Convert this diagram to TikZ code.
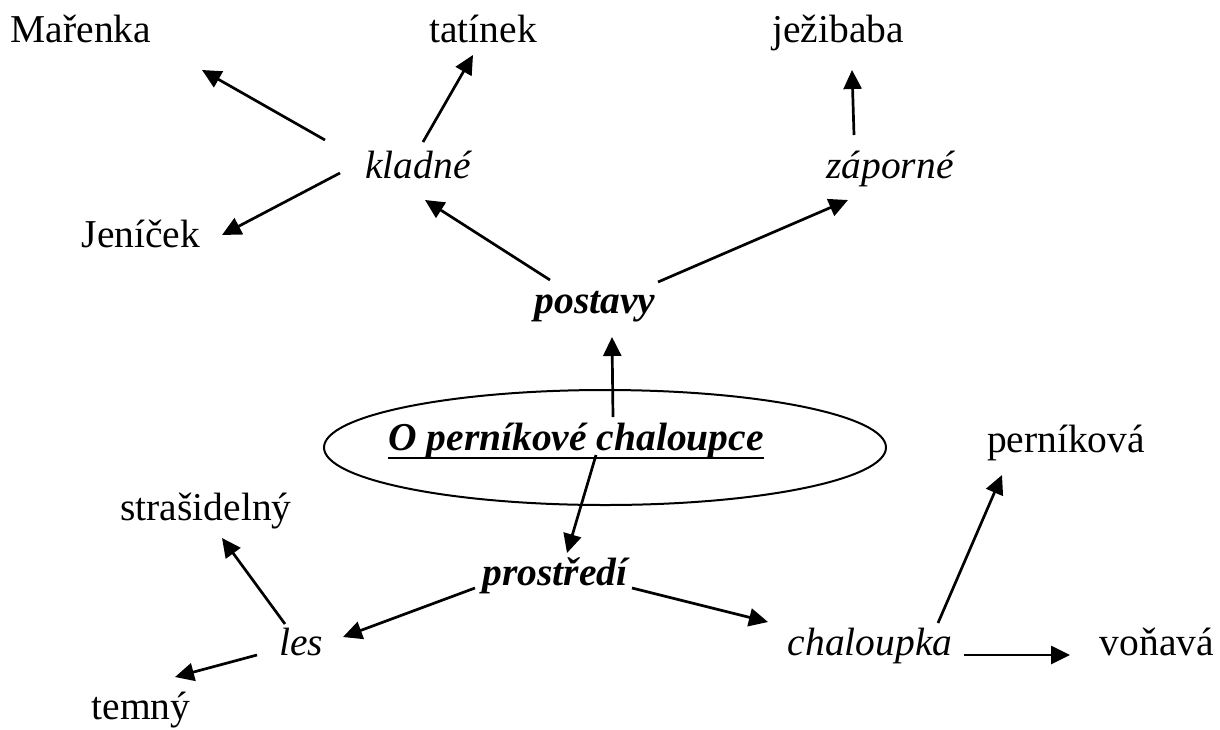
\documentclass[tikz,border=0pt]{standalone}
\usepackage{fontspec}
\setmainfont{Liberation Serif}
\usetikzlibrary{arrows.meta,shapes.geometric}
\tikzset{
  lbl/.style={anchor=base,inner sep=0pt,font=\fontsize{39.5}{44}\selectfont},
  ilbl/.style={lbl,font=\fontsize{39.5}{44}\selectfont\itshape},
  blbl/.style={lbl,font=\fontsize{39.5}{44}\selectfont\bfseries\itshape},
  arr/.style={line width=2.7pt,-{Triangle[length=19pt,width=18pt]}},
}
\begin{document}
\begin{tikzpicture}[x=1pt,y=-1pt]
\useasboundingbox[fill=white] (0,0) rectangle (1220,729);
% nodes
\node[lbl] (marenka) at (81,42) {Mařenka};
\node[lbl] (tatinek) at (483,42) {tatínek};
\node[lbl] (jezibaba) at (838,42) {ježibaba};
\node[ilbl] (kladne) at (418,178) {kladné};
\node[ilbl] (zaporne) at (890,178) {záporné};
\node[lbl] (jenicek) at (141,247) {Jeníček};
\node[blbl] (postavy) at (595,313) {postavy};
\node[draw,ellipse,line width=2pt,minimum width=562pt,minimum height=115pt,inner sep=0pt] (oval) at (605,447.5) {};
\node[blbl] (title) at (576,450) {O perníkové chaloupce};
\node[lbl] (pernikova) at (1066,452) {perníková};
\node[lbl] (strasidelny) at (206,520) {strašidelný};
\node[blbl] (prostredi) at (555,585) {prostředí};
\node[ilbl] (les) at (301,655) {les};
\node[ilbl] (chaloupka) at (870,655) {chaloupka};
\node[lbl] (vonava) at (1157,655) {voňavá};
\node[lbl] (temny) at (141,719) {temný};
% underline of title
\coordinate (ulA) at ([yshift=-8pt]title.base west);
\coordinate (ulB) at ([yshift=-8pt]title.base east);
\draw[line width=2.8pt] (ulA) -- (ulB);
% arrow end points
\coordinate (k1) at (325,140); \coordinate (m1) at (202,70);
\coordinate (k2) at (423,142); \coordinate (t1) at (473,55);
\coordinate (k3) at (340,173); \coordinate (j1) at (222,235);
\coordinate (p1) at (550,280); \coordinate (k4) at (425,200);
\coordinate (p2) at (658,282); \coordinate (z1) at (848,200);
\coordinate (z2) at (854,135); \coordinate (je1) at (852,70);
\coordinate (o1) at (613,417); \coordinate (p3) at (612,337);
\coordinate (o2) at (596,455); \coordinate (pr1) at (567,553);
\coordinate (pr2) at (475,588); \coordinate (l1) at (343,637);
\coordinate (pr3) at (632,588); \coordinate (c1) at (768,622);
\coordinate (l2) at (285,624); \coordinate (s1) at (222,538);
\coordinate (l3) at (257,655); \coordinate (te1) at (175,677);
\coordinate (c2) at (938,623); \coordinate (pe1) at (1002,475);
\coordinate (c3) at (964,655); \coordinate (v1) at (1070,655);
% connectors
\draw[arr] (k1) -- (m1);
\draw[arr] (k2) -- (t1);
\draw[arr] (k3) -- (j1);
\draw[arr] (p1) -- (k4);
\draw[arr] (p2) -- (z1);
\draw[arr] (z2) -- (je1);
\draw[arr] (o1) -- (p3);
\draw[arr] (o2) -- (pr1);
\draw[arr] (pr2) -- (l1);
\draw[arr] (pr3) -- (c1);
\draw[arr] (l2) -- (s1);
\draw[arr] (l3) -- (te1);
\draw[arr] (c2) -- (pe1);
\draw[arr] (c3) -- (v1);
\end{tikzpicture}
\end{document}
